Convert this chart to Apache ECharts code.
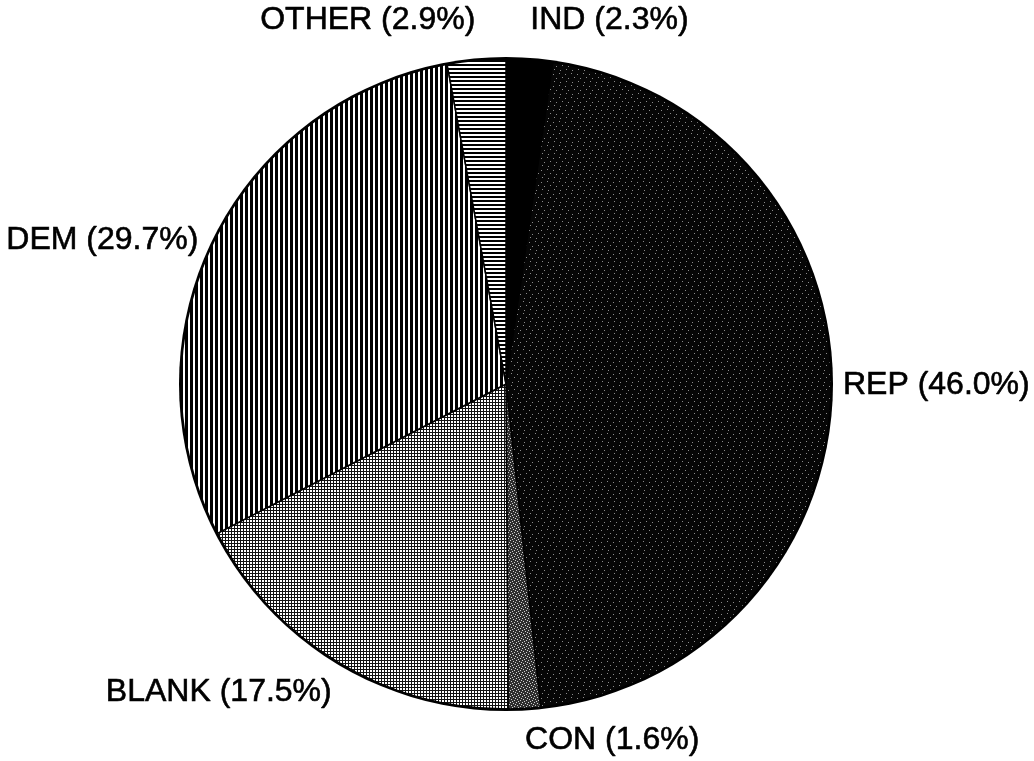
<!DOCTYPE html>
<html>
<head>
<meta charset="utf-8">
<script src="https://cdn.jsdelivr.net/npm/echarts@6/dist/echarts.min.js"></script>
<style>
  html, body { margin: 0; padding: 0; background: #fff; }
  #chart { width: 1034px; height: 761px; }
</style>
</head>
<body>
<div id="chart"></div>
<script>
// data (percent shares, clockwise from 12 o'clock)
const parties = ['IND', 'REP', 'CON', 'BLANK', 'DEM', 'OTHER'];
const shares = [2.3, 46.0, 1.6, 17.5, 29.7, 2.9];

// label nudges so text sits like the original
const labelNudge = [
  [0, -28], [0, -5], [0, 20], [0, 20], [-5, 4], [0, -28]
];

// small canvas fills to mimic the printed hatch patterns
function makeTile(w, h, draw) {
  const c = document.createElement('canvas');
  c.width = w; c.height = h;
  const ctx = c.getContext('2d');
  draw(ctx);
  return c;
}

const patterns = {
  solid: '#000',
  dark: makeTile(12, 12, ctx => {
    ctx.fillStyle = '#060606'; ctx.fillRect(0, 0, 12, 12);
    ctx.fillStyle = '#8a8a8a';
    [[1, 2], [7, 1], [4, 6], [10, 5], [2, 9], [8, 10]].forEach(p => ctx.fillRect(p[0], p[1], 1, 1));
  }),
  speckle: makeTile(6, 6, ctx => {
    ctx.fillStyle = '#2e2e2e'; ctx.fillRect(0, 0, 6, 6);
    ctx.fillStyle = '#d0d0d0';
    [[0, 0], [3, 1], [1, 3], [4, 4], [5, 2], [2, 5]].forEach(p => ctx.fillRect(p[0], p[1], 1, 1));
  }),
  grid: makeTile(3, 3, ctx => {
    ctx.fillStyle = '#fff'; ctx.fillRect(0, 0, 3, 3);
    ctx.fillStyle = '#111';
    ctx.fillRect(0, 0, 3, 1);
    ctx.fillRect(0, 0, 1, 3);
  }),
  vstripe: makeTile(5, 5, ctx => {
    ctx.fillStyle = '#fff'; ctx.fillRect(0, 0, 5, 5);
    ctx.fillStyle = '#000'; ctx.fillRect(0, 0, 3, 5);
  }),
  hstripe: makeTile(4, 4, ctx => {
    ctx.fillStyle = '#fff'; ctx.fillRect(0, 0, 4, 4);
    ctx.fillStyle = '#000'; ctx.fillRect(0, 0, 4, 2);
  })
};
const fills = ['solid', 'dark', 'speckle', 'grid', 'vstripe', 'hstripe'];

const chart = echarts.init(document.getElementById('chart'), null, { renderer: 'canvas' });

const option = {
  backgroundColor: '#fff',
  animation: false,
  series: [{
    // outer rim, drawn a little heavier like the print
    type: 'pie',
    center: [506, 384],
    radius: 327,
    silent: true,
    z: 1,
    label: { show: false },
    labelLine: { show: false },
    itemStyle: { color: '#000', borderWidth: 0 },
    data: [{ name: 'rim', value: 1 }]
  }, {
    type: 'pie',
    center: [506, 384],
    radius: 325,
    startAngle: 90,
    clockwise: true,
    z: 2,
    avoidLabelOverlap: false,
    itemStyle: { borderColor: '#000', borderWidth: 1.5 },
    label: {
      show: true,
      position: 'outside',
      distanceToLabelLine: 0,
      color: '#000',
      fontFamily: '"Liberation Sans", Arial, sans-serif',
      fontSize: 32,
      textBorderColor: '#000',
      textBorderWidth: 0.6,
      formatter: p => p.name + ' (' + p.value.toFixed(1) + '%)'
    },
    labelLine: { show: false, length: 12, length2: 0 },
    labelLayout: p => ({ dx: labelNudge[p.dataIndex][0], dy: labelNudge[p.dataIndex][1] }),
    emphasis: { disabled: true },
    data: parties.map((name, i) => {
      const f = patterns[fills[i]];
      return {
        name: name,
        value: shares[i],
        itemStyle: { color: typeof f === 'string' ? f : { image: f, repeat: 'repeat' } }
      };
    })
  }]
};

chart.setOption(option);
</script>
</body>
</html>
